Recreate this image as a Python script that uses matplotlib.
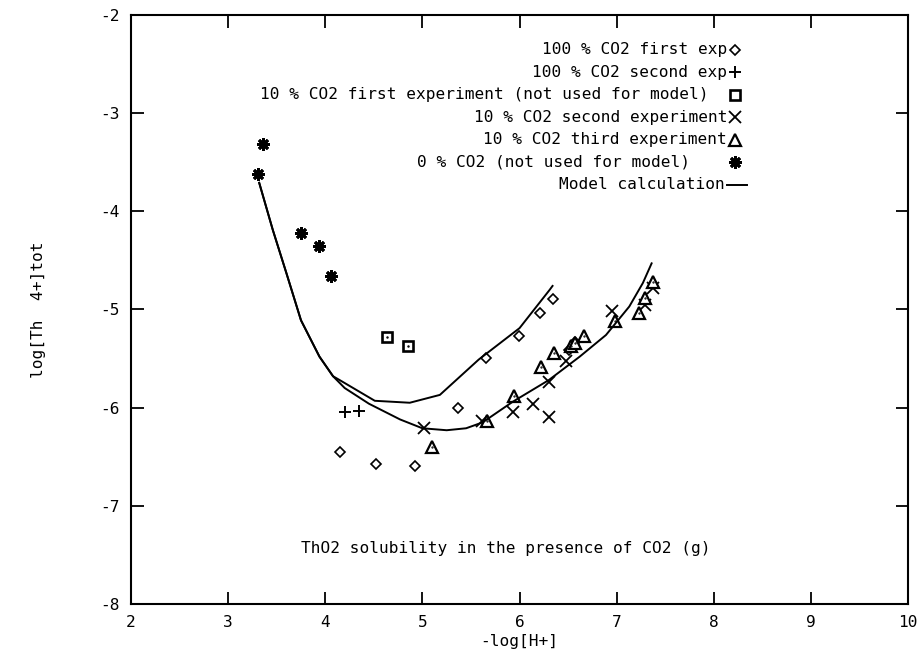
import matplotlib as mpl
mpl.use('Agg')
import matplotlib.pyplot as plt
import numpy as np

plt.rcParams['font.family'] = ['DejaVu Sans Mono']
plt.rcParams['axes.unicode_minus'] = False
FS = 11.6

# 100 % CO2 first exp (diamonds)
co2_100_a_x = [4.15, 4.52, 4.92, 5.37, 5.65, 5.99, 6.21, 6.34, 6.51, 6.57]
co2_100_a_y = [-6.45, -6.57, -6.59, -6.00, -5.49, -5.27, -5.04, -4.89, -5.41, -5.33]
# 100 % CO2 second exp (plus)
co2_100_b_x = [4.20, 4.35]
co2_100_b_y = [-6.04, -6.03]
# 10 % CO2 first experiment (squares)
co2_10_a_x = [4.64, 4.85]
co2_10_a_y = [-5.28, -5.37]
# 10 % CO2 second experiment (x)
co2_10_b_x = [5.02, 5.61, 5.93, 6.14, 6.30, 6.30, 6.48, 6.95, 7.29, 7.37]
co2_10_b_y = [-6.21, -6.14, -6.04, -5.96, -6.10, -5.74, -5.52, -5.02, -4.95, -4.78]
# 10 % CO2 third experiment (triangles)
co2_10_c_x = [5.10, 5.67, 5.94, 6.22, 6.35, 6.53, 6.57, 6.66, 6.98, 7.23, 7.29, 7.37]
co2_10_c_y = [-6.40, -6.14, -5.88, -5.59, -5.44, -5.37, -5.34, -5.27, -5.12, -5.04, -4.88, -4.72]
# 0 % CO2 (asterisks)
co2_0_x = [3.36, 3.31, 3.75, 3.94, 4.06]
co2_0_y = [-3.31, -3.62, -4.22, -4.35, -4.66]

# model curves
model_hi_x = [3.32, 3.46, 3.60, 3.75, 3.94, 4.08, 4.15, 4.51, 4.87, 5.18, 5.58, 6.00, 6.31, 6.34]
model_hi_y = [-3.71, -4.19, -4.63, -5.11, -5.48, -5.68, -5.72, -5.93, -5.95, -5.87, -5.51, -5.19, -4.80, -4.76]
model_lo_x = [3.32, 3.46, 3.60, 3.75, 3.94, 4.08, 4.20, 4.45, 4.77, 5.00, 5.25, 5.45, 5.62, 5.93, 6.30, 6.62, 6.89, 7.13, 7.27, 7.36]
model_lo_y = [-3.71, -4.19, -4.63, -5.11, -5.48, -5.68, -5.80, -5.96, -6.12, -6.21, -6.23, -6.21, -6.15, -5.94, -5.72, -5.48, -5.26, -4.97, -4.73, -4.53]

fig = plt.figure(figsize=(9.2, 6.51), dpi=100)
ax = fig.add_axes([0.1424, 0.0722, 0.8446, 0.9048])

mk = dict(linestyle='none', color='k', mfc='white', mec='k')
st_dia = dict(marker='D', ms=5.5, mew=1.2)
st_plus = dict(marker='+', ms=9, mew=1.4)
st_sq = dict(marker='s', ms=7.5, mew=1.9)
st_x = dict(marker='x', ms=8.5, mew=1.3)
st_tri = dict(marker='^', ms=9, mew=1.6)
st_ast = dict(marker=(8, 2, 0), ms=9, mew=2.0)

ax.plot(co2_100_a_x, co2_100_a_y, **st_dia, **mk)
ax.plot(co2_100_b_x, co2_100_b_y, **st_plus, **mk)
ax.plot(co2_10_a_x, co2_10_a_y, **st_sq, **mk)
ax.plot(co2_10_a_x, co2_10_a_y, marker='.', ms=1.5, **mk)
ax.plot(co2_10_b_x, co2_10_b_y, **st_x, **mk)
ax.plot(co2_10_c_x, co2_10_c_y, **st_tri, **mk)
ax.plot(co2_10_c_x, co2_10_c_y, marker='.', ms=1.2, **mk)
ax.plot(co2_0_x, co2_0_y, **st_ast, **mk)
ax.plot(model_hi_x, model_hi_y, color='k', lw=1.4)
ax.plot(model_lo_x, model_lo_y, color='k', lw=1.4)

ax.set_xlim(2, 10)
ax.set_ylim(-8, -2)
ax.set_xticks(range(2, 11))
ax.set_yticks(range(-8, -1))
ax.tick_params(direction='in', top=True, right=True, length=9, width=1.3,
               labelsize=FS, pad=8)
for s in ax.spines.values():
    s.set_linewidth(1.5)

ax.set_xlabel('-log[H+]', fontsize=FS, labelpad=3)
ax.set_ylabel('log[Th  4+]tot', fontsize=FS)
ax.yaxis.set_label_coords(-0.11, 0.5)

ax.text(5.86, -7.43, 'ThO2 solubility in the presence of CO2 (g)',
        fontsize=FS, ha='center', va='center')

# legend, text on the left and symbol on the right
rows = [
    ('100 % CO2 first exp', 727, st_dia),
    ('100 % CO2 second exp', 727, st_plus),
    ('10 % CO2 first experiment (not used for model)', 708, st_sq),
    ('10 % CO2 second experiment', 727, st_x),
    ('10 % CO2 third experiment', 727, st_tri),
    ('0 % CO2 (not used for model)', 690, st_ast),
]
def fx(px):
    return (px - 131) / 777.0
def fy(py):
    return (604 - py) / 589.0

for i, (lab, xr, m) in enumerate(rows):
    y = fy(50 + 22.5 * i)
    ax.text(fx(xr), y, lab, fontsize=FS, ha='right', va='center',
            transform=ax.transAxes)
    ax.plot([fx(735)], [y], transform=ax.transAxes, linestyle='none',
            mfc='white', mec='k', color='k', clip_on=False, **m)
y = fy(50 + 22.5 * 6)
ax.text(fx(725), y, 'Model calculation', fontsize=FS, ha='right', va='center',
        transform=ax.transAxes)
ax.plot([fx(727), fx(747)], [y, y], color='k', lw=1.4, transform=ax.transAxes)

fig.savefig('out.png', dpi=100)
